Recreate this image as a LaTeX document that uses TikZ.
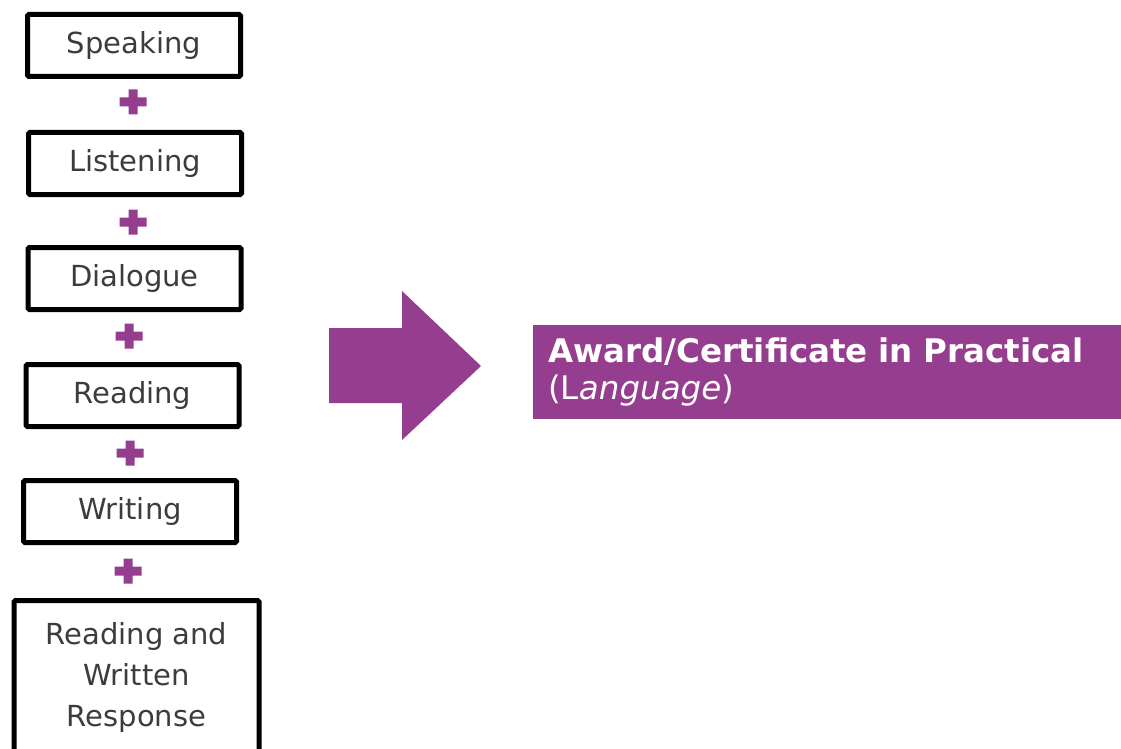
\documentclass[tikz,border=0pt]{standalone}
\usepackage{fontspec}
\setmainfont{DejaVu Sans}
\usetikzlibrary{positioning}
\definecolor{plum}{RGB}{149,61,142}
\definecolor{ink}{RGB}{60,60,60}

\begin{document}
\begin{tikzpicture}[x=1pt,y=-1pt,
        skill/.style={draw,line width=5pt,rounded corners=1.5pt,minimum width=213pt,minimum height=62pt,
            inner sep=0pt,text=ink,align=center,font=\fontsize{29}{41}\selectfont}]
    \useasboundingbox (0,0) rectangle (1121,749);
    % the skills
    \node[skill] (speak) at (134,45.5) {Speaking};
    \node[skill] (listen) at (135,163.5) {Listening};
    \node[skill] (dialog) at (134.5,278.5) {Dialogue};
    \node[skill] (read) at (132.5,395.5) {Reading};
    \node[skill] (write) at (130,511.5) {Writing};
    \node[skill,minimum width=245pt,minimum height=154pt] (respond) at (136.5,677.5) {Reading and\\Written\\Response};
    % plus signs
    \foreach \x/\y in {133/102,133/222,129/336,130/453,128/571}
        \fill[plum] (\x-13.5,\y-4.5) rectangle (\x+13.5,\y+4.5) (\x-4.5,\y-12.5) rectangle (\x+4.5,\y+12.5);
    % big arrow
    \fill[plum] (329,328) -- (402,328) -- (402,291) -- (481,366) -- (402,440) -- (402,403) -- (329,403) -- cycle;
    \node[fill=plum,anchor=north west,minimum width=588pt,minimum height=94pt,text width=558pt,inner xsep=15pt,
        align=left,text=white,font=\fontsize{32.5}{37}\selectfont] (award) at (533,325)
        {\textbf{Award/Certificate in Practical}\\(L\textit{anguage})};
\end{tikzpicture}
\end{document}
